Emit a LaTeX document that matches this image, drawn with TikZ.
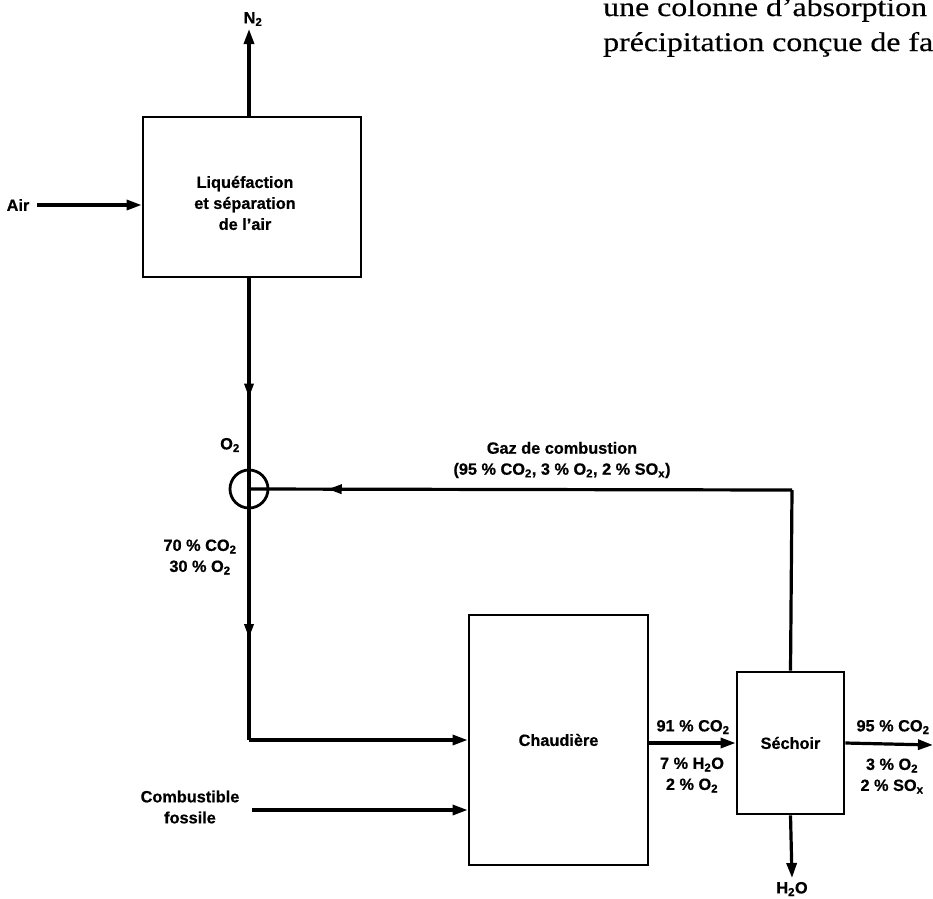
\documentclass[tikz,border=0pt]{standalone}
\usepackage{fontspec}
\usepackage{graphicx}
\setmainfont[BoldFeatures={FakeBold=0.6}]{Liberation Sans}
\newfontfamily\pageserif[FakeBold=0.4]{Liberation Serif}
\usetikzlibrary{arrows.meta,decorations.markings}
\newcommand\lblfont{\bfseries\fontsize{16.3}{21}\selectfont}
\newcommand\sbs[1]{\textsubscript{#1}}
\tikzset{
  unitbox/.style={draw,line width=2.8pt,inner sep=0pt,font=\lblfont},
  lbl/.style={inner sep=1pt,font=\lblfont,align=center},
  flow/.style={line width=3.2pt},
  endtip/.style={-{Triangle[length=15pt,width=10pt]}},
  midarrow/.style={postaction={decorate},decoration={markings,
      mark=at position #1 with {\arrow{Triangle[length=14pt,width=9pt]}}}},
  pagetext/.style={anchor=base west,inner sep=0pt,font=\pageserif\fontsize{27}{27}\selectfont}
}
\begin{document}
\begin{tikzpicture}[x=1pt,y=-1pt]
\clip (0,0) rectangle (933,898);
\fill[white] (0,0) rectangle (933,898);

% page text fragment
\node[pagetext] (t1) at (603,16) {\scalebox{1.18}[1]{une colonne d’absorption}};
\node[pagetext] (t2) at (603,51) {\scalebox{1.18}[1]{précipitation conçue de façon}};

% units
\node[unitbox,minimum width=218pt,minimum height=160pt] (box1) at (252,197) {};
\node[lbl] (box1txt) at (245,203) {Liquéfaction\\et séparation\\de l’air};
\node[unitbox,minimum width=179pt,minimum height=250pt] (chaud) at (558.5,740) {Chaudière};
\node[unitbox,minimum width=107pt,minimum height=142pt] (sech) at (790.5,743) {Séchoir};
\node[draw,circle,line width=2.8pt,minimum size=38pt,inner sep=0pt] (mix) at (249,489) {};

% labels
\node[lbl] (air) at (18,205) {Air};
\node[lbl] (n2) at (253,19) {N\sbs{2}};
\node[lbl] (o2) at (230,445) {O\sbs{2}};
\node[lbl] (mixcomp) at (200,557) {70 \% CO\sbs{2}\\30 \% O\sbs{2}};
\node[lbl] (gaz) at (562,460) {Gaz de combustion\\(95 \% CO\sbs{2}, 3 \% O\sbs{2}, 2 \% SO\sbs{x})};
\node[lbl] (fuel) at (190,807) {Combustible\\fossile};
\node[lbl] (c91) at (693,727) {91 \% CO\sbs{2}};
\node[lbl] (c7) at (692,775) {7 \% H\sbs{2}O\\2 \% O\sbs{2}};
\node[lbl] (c95) at (893,727) {95 \% CO\sbs{2}};
\node[lbl] (c3) at (892,776) {3 \% O\sbs{2}\\2 \% SO\sbs{x}};
\node[lbl] (h2o) at (792,889) {H\sbs{2}O};

% connector points
\coordinate (airstart) at (37,205);
\coordinate (n2tip) at (249,29);
\coordinate (c1) at (249,740);
\coordinate (fuelstart) at (252,810);
\coordinate (c2) at (792,490);
\coordinate (outtip) at (933,745);
\coordinate (h2otip) at (792,878);

% flows
\draw[flow,endtip] (airstart) -- (airstart -| box1.west);
\draw[flow,endtip] (box1.north -| mix) -- (n2tip);
\draw[flow,midarrow=0.566] (box1.south -| mix) -- (mix.center);
\draw[flow,midarrow=0.594] (mix.center) -- (c1);
\draw[flow,endtip] (c1) -- (c1 -| chaud.west);
\draw[flow,endtip] (fuelstart) -- (fuelstart -| chaud.west);
\draw[flow,endtip] (chaud.east |- sech.west) -- (sech.west);
\draw[flow,endtip] (sech.east) -- (outtip);
\draw[flow,endtip] (sech.south) -- (h2otip);
\draw[flow] (sech.north) -- (c2);
\draw[flow,midarrow=0.855] (c2) -- (mix.center);
\end{tikzpicture}
\end{document}
